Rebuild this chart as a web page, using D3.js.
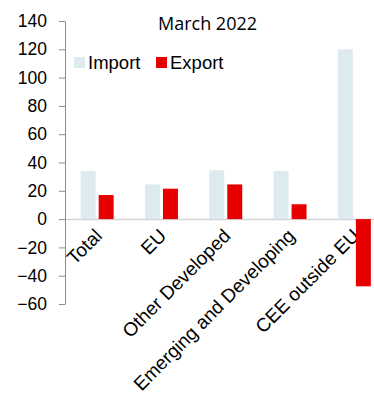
<!DOCTYPE html>
<html>
<head>
<meta charset="utf-8">
<script src="https://cdn.jsdelivr.net/npm/d3@7"></script>
<style>
  body { margin: 0; background: #fff; }
  svg { display: block; }
  .axis text { font-family: Arial, "Liberation Sans", sans-serif; fill: #000; }
</style>
</head>
<body>
<svg id="chart" width="374" height="396"></svg>
<script>
const categories = ['Total', 'EU', 'Other Developed', 'Emerging and Developing', 'CEE outside EU'];
const seriesNames = ['Import', 'Export'];
const importValues = [34, 24.5, 34.5, 34, 120];
const exportValues = [17, 21.5, 24.5, 10.5, -47.5];
const yTicks = [-60, -40, -20, 0, 20, 40, 60, 80, 100, 120, 140];
const title = 'March 2022';

const colors = { Import: '#ddeaf0', Export: '#e60000' };

const svg = d3.select('#chart');

const data = categories.map((c, i) => ({
  cat: c,
  values: [
    { key: 'Import', value: importValues[i] },
    { key: 'Export', value: exportValues[i] }
  ]
}));

const y = d3.scaleLinear().domain([-60, 140]).range([304, 21]);

const x0 = d3.scaleBand()
  .domain(categories)
  .range([65, 386.5])
  .paddingInner(0.487)
  .paddingOuter(0.2435);

const x1 = d3.scaleBand()
  .domain(seriesNames)
  .range([0, x0.bandwidth()])
  .paddingInner(0.17);

// zero line / x axis
const xAxis = svg.append('g')
  .attr('class', 'axis axis--x')
  .attr('transform', `translate(0,${y(0)})`)
  .call(d3.axisBottom(x0).tickSize(0).tickSizeOuter(0));
xAxis.select('.domain').attr('stroke', '#d4d4d4').attr('stroke-width', 1.5);
xAxis.selectAll('.tick text')
  .style('font-size', '19px')
  .attr('text-anchor', 'end')
  .attr('dy', null)
  .attr('y', 0)
  .attr('transform', 'translate(6,18) rotate(-45)');

// bars
const group = svg.selectAll('.group')
  .data(data)
  .enter().append('g')
  .attr('class', 'group')
  .attr('transform', d => `translate(${x0(d.cat)},0)`);

group.selectAll('rect')
  .data(d => d.values)
  .enter().append('rect')
  .attr('x', d => x1(d.key))
  .attr('width', x1.bandwidth())
  .attr('y', d => y(Math.max(0, d.value)))
  .attr('height', d => Math.abs(y(d.value) - y(0)))
  .attr('fill', d => colors[d.key]);

// y axis
const yAxis = svg.append('g')
  .attr('class', 'axis axis--y')
  .attr('transform', 'translate(65,0)')
  .call(d3.axisLeft(y).tickValues(yTicks).tickSize(6).tickSizeOuter(0).tickPadding(12));
yAxis.select('.domain').attr('stroke', '#8c8c8c');
yAxis.selectAll('.tick line').attr('stroke', '#8c8c8c');
yAxis.selectAll('.tick text').style('font-size', '17.5px');

// title
svg.append('text')
  .attr('x', 207.5)
  .attr('y', 30)
  .attr('text-anchor', 'middle')
  .style('font-family', '"Open Sans", sans-serif')
  .style('font-size', '18px')
  .text(title);

// legend
const legend = svg.append('g')
  .attr('transform', 'translate(74,57)');
const legendX = [0, 82];
const item = legend.selectAll('.item')
  .data(seriesNames)
  .enter().append('g')
  .attr('class', 'item')
  .attr('transform', (d, i) => `translate(${legendX[i]},0)`);
item.append('rect')
  .attr('width', 11)
  .attr('height', 11)
  .attr('fill', d => colors[d]);
item.append('text')
  .attr('x', 14)
  .attr('y', 12)
  .style('font-family', 'Arial, "Liberation Sans", sans-serif')
  .style('font-size', '18.5px')
  .text(d => d);
</script>
</body>
</html>
